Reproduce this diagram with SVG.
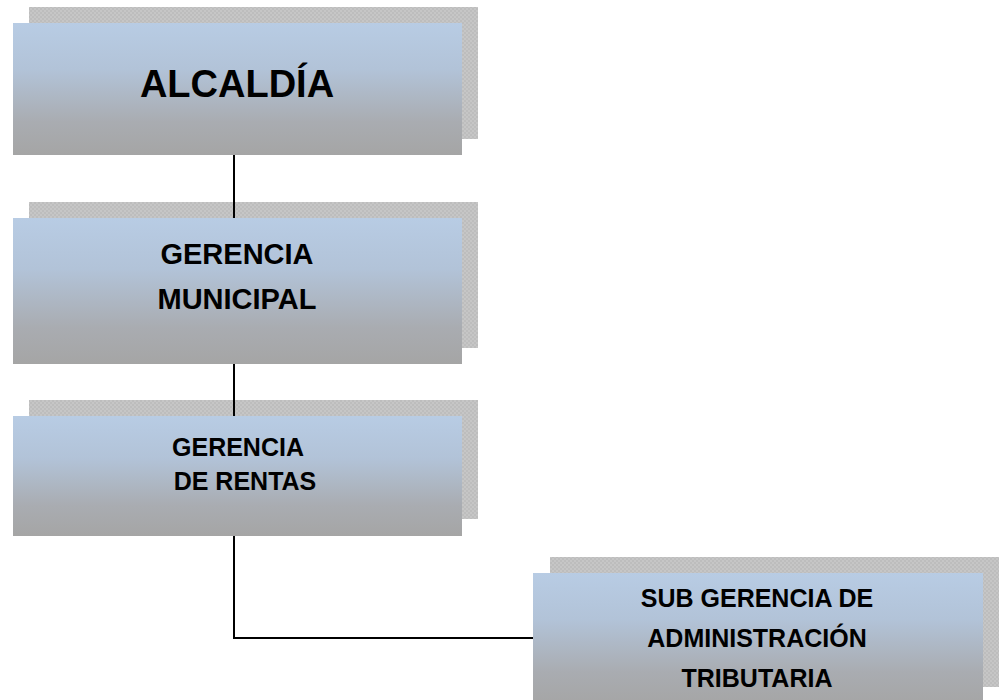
<svg xmlns="http://www.w3.org/2000/svg" width="1000" height="700" viewBox="0 0 1000 700">
<defs>
<linearGradient id="g" x1="0" y1="0" x2="0" y2="1">
<stop offset="0" stop-color="#b8cce4"/>
<stop offset="0.35" stop-color="#b2c3d8"/>
<stop offset="0.75" stop-color="#a9acb1"/>
<stop offset="1" stop-color="#a5a5a5"/>
</linearGradient>
<pattern id="chk" width="4" height="4" patternUnits="userSpaceOnUse">
<rect width="4" height="4" fill="#c6c6c6"/>
<rect width="2" height="2" fill="#bdbdbd"/>
<rect x="2" y="2" width="2" height="2" fill="#bdbdbd"/>
</pattern>
<style>
.sh{fill:url(#chk)}
.bx{fill:url(#g)}
.t{font-family:"Liberation Sans",Arial,sans-serif;font-weight:bold;fill:#000;text-anchor:middle}
.c{stroke:#000;stroke-width:2;fill:none}
</style>
</defs>
<g id="connectors">
<line class="c" x1="234" y1="155" x2="234" y2="218"/>
<line class="c" x1="234" y1="364" x2="234" y2="416"/>
<polyline class="c" points="234,535 234,638 533,638"/>
</g>
<g id="alcaldia">
<rect class="sh" x="29" y="7" width="449" height="132"/>
<rect class="bx" x="13" y="23" width="449" height="132"/>
<text class="t" x="237" y="97" font-size="38">ALCALDÍA</text>
</g>
<g id="gerencia-municipal">
<rect class="sh" x="29" y="202" width="449" height="146"/>
<line class="c" x1="234" y1="202" x2="234" y2="218"/>
<rect class="bx" x="13" y="218" width="449" height="146"/>
<text class="t" x="237" y="264" font-size="29">GERENCIA</text>
<text class="t" x="237" y="309" font-size="29">MUNICIPAL</text>
</g>
<g id="gerencia-rentas">
<rect class="sh" x="29" y="400" width="449" height="119"/>
<line class="c" x1="234" y1="400" x2="234" y2="416"/>
<rect class="bx" x="13" y="416" width="449" height="120"/>
<text class="t" x="238" y="456" font-size="25">GERENCIA</text>
<text class="t" x="245" y="490" font-size="25">DE RENTAS</text>
</g>
<g id="sub-gerencia">
<rect class="sh" x="550" y="557" width="449" height="130"/>
<rect class="bx" x="533" y="573" width="450" height="132"/>
<text class="t" x="757" y="607" font-size="25">SUB GERENCIA DE</text>
<text class="t" x="757" y="647" font-size="25">ADMINISTRACIÓN</text>
<text class="t" x="757" y="687" font-size="25">TRIBUTARIA</text>
</g>
</svg>
